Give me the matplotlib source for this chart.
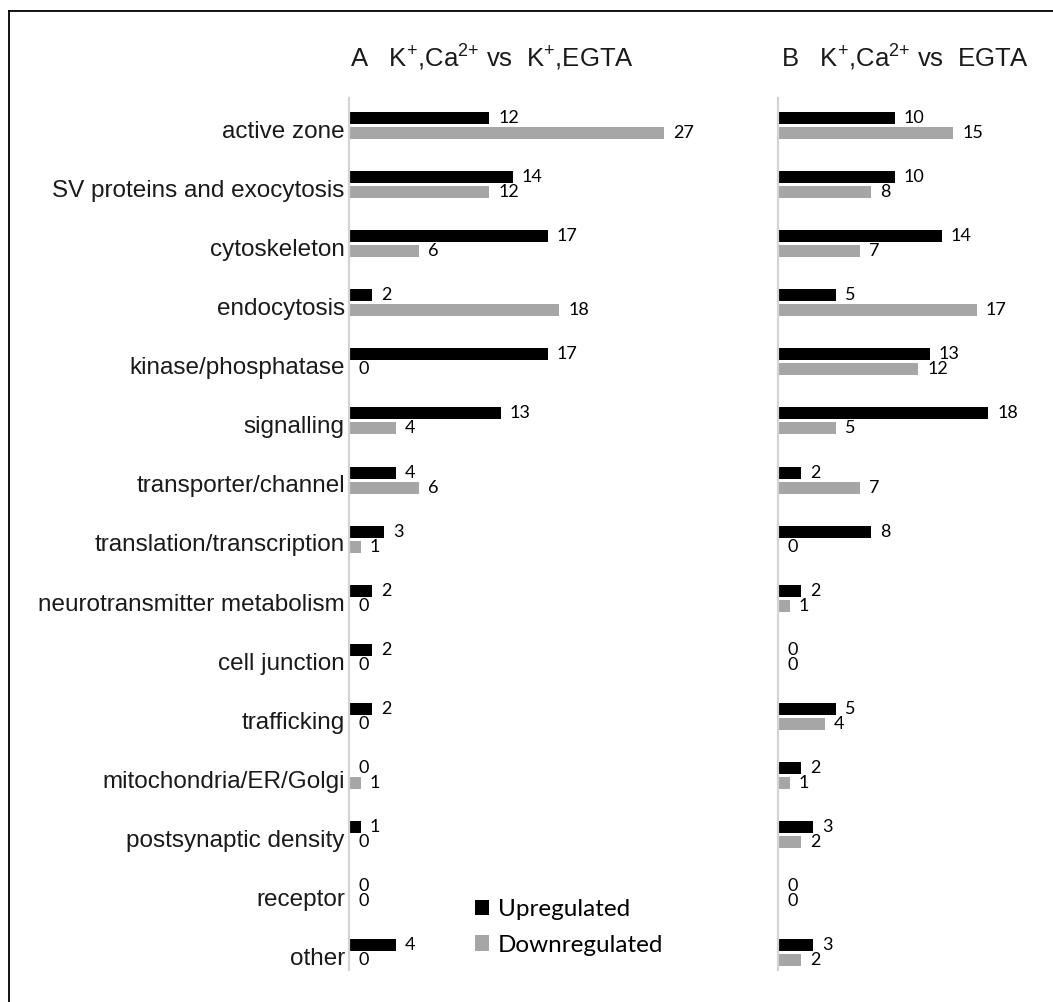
import matplotlib
matplotlib.use("Agg")
import matplotlib.pyplot as plt
from matplotlib.lines import Line2D
from matplotlib.patches import Patch

categories = ["active zone", "SV proteins and exocytosis", "cytoskeleton", "endocytosis",
              "kinase/phosphatase", "signalling", "transporter/channel",
              "translation/transcription", "neurotransmitter metabolism", "cell junction",
              "trafficking", "mitochondria/ER/Golgi", "postsynaptic density", "receptor", "other"]
a_up = [12, 14, 17, 2, 17, 13, 4, 3, 2, 2, 2, 0, 1, 0, 4]
a_down = [27, 12, 6, 18, 0, 4, 6, 1, 0, 0, 0, 1, 0, 0, 0]
b_up = [10, 10, 14, 5, 13, 18, 2, 8, 2, 0, 5, 2, 3, 0, 3]
b_down = [15, 8, 7, 17, 12, 5, 7, 0, 1, 0, 4, 1, 2, 0, 2]
series_labels = ["Upregulated", "Downregulated"]
title_a = r"A   K$^{{+}}$,Ca$^{2{+}}$ vs  K$^{{+}}$,EGTA"
title_b = r"B   K$^{{+}}$,Ca$^{2{+}}$ vs  EGTA"

plt.rcParams["mathtext.fontset"] = "custom"
plt.rcParams["mathtext.rm"] = "Liberation Sans"
plt.rcParams["mathtext.it"] = "Liberation Sans"
plt.rcParams["mathtext.bf"] = "Liberation Sans"
plt.rcParams["mathtext.sf"] = "Liberation Sans"

W, H = 1053, 1002
fig = plt.figure(figsize=(W / 100, H / 100), dpi=100)

UP_C = "#000000"
DOWN_C = "#a6a6a6"
AX_C = "#d4d4d4"

top_px, bot_px = 98, 970
y_lo, y_hi = -0.465, 14.29
bh = 0.203
off = 0.127
px_unit = 11.68


def make_ax(left_px, xmax):
    width_px = xmax * px_unit
    ax = fig.add_axes([left_px / W, (H - bot_px) / H, width_px / W, (bot_px - top_px) / H])
    ax.set_xlim(0, xmax)
    ax.set_ylim(y_hi, y_lo)
    for s in ["top", "right", "bottom"]:
        ax.spines[s].set_visible(False)
    ax.spines["left"].set_color(AX_C)
    ax.spines["left"].set_linewidth(1.6)
    ax.set_xticks([])
    ax.set_yticks([])
    ax.patch.set_alpha(0)
    return ax


def draw(ax, up, down):
    ys = list(range(len(categories)))
    ax.barh([y - off for y in ys], up, height=bh, color=UP_C, label=series_labels[0])
    ax.barh([y + off for y in ys], down, height=bh, color=DOWN_C, label=series_labels[1])
    for y, v in zip(ys, up):
        ax.annotate(str(v), xy=(v, y - off), xytext=(6.5, 0), textcoords="offset points",
                    ha="left", va="center", fontsize=13, family="Lato", color="black")
    for y, v in zip(ys, down):
        ax.annotate(str(v), xy=(v, y + off), xytext=(6.5, 0), textcoords="offset points",
                    ha="left", va="center", fontsize=13, family="Lato", color="black")


ax_a = make_ax(349, 30)
ax_b = make_ax(778, 23)
draw(ax_a, a_up, a_down)
draw(ax_b, b_up, b_down)

for i, cat in enumerate(categories):
    ax_a.annotate(cat, xy=(0, i), xycoords=ax_a.get_yaxis_transform(),
                  xytext=(-3, -4.5), textcoords="offset points", ha="right", va="center",
                  fontsize=17.5, family="Liberation Sans", color="#1a1a1a",
                  annotation_clip=False)

fig.text(350 / W, 1 - 67 / H, title_a, fontsize=18.5, family="Liberation Sans",
         ha="left", va="baseline", color="#1a1a1a")
fig.text(781 / W, 1 - 67 / H, title_b, fontsize=18.5, family="Liberation Sans",
         ha="left", va="baseline", color="#1a1a1a")

handles = [Patch(facecolor=UP_C, edgecolor="none"), Patch(facecolor=DOWN_C, edgecolor="none")]
leg = fig.legend(handles, series_labels, loc="upper left",
                 bbox_to_anchor=(475 / W, 1 - 899 / H), frameon=False,
                 prop={"family": "Lato", "size": 17.5}, handlelength=0.58, handleheight=0.58,
                 handletextpad=0.35, labelspacing=0.6, borderpad=0, borderaxespad=0)

# border (top and left edges visible in the crop)
fig.add_artist(Line2D([9 / W, 9 / W], [1 - 11 / H, -0.01], transform=fig.transFigure,
                      color="black", linewidth=1.3))
fig.add_artist(Line2D([9 / W, 1.01], [1 - 11 / H, 1 - 11 / H], transform=fig.transFigure,
                      color="black", linewidth=1.3))

fig.savefig("out.png", dpi=100, facecolor="white")
